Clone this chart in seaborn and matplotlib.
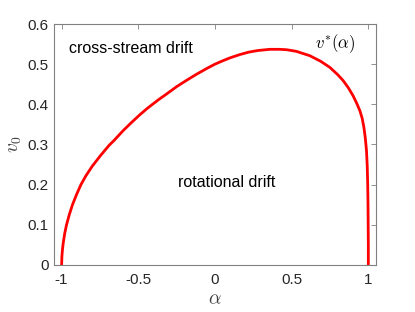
import numpy as np
import pandas as pd
import seaborn as sns
import matplotlib
matplotlib.use('Agg')
import matplotlib.pyplot as plt

# v*(alpha) boundary
alpha = [-1.0, -0.998, -0.994, -0.989, -0.980, -0.968, -0.950, -0.929, -0.903,
         -0.874, -0.840, -0.800, -0.745, -0.690, -0.658, -0.600, -0.549,
         -0.490, -0.441, -0.370, -0.311, -0.250, -0.180, -0.120, -0.050,
         0.0, 0.048, 0.100, 0.163, 0.220, 0.280, 0.358, 0.420, 0.467, 0.530,
         0.619, 0.690, 0.749, 0.800, 0.836, 0.870, 0.901, 0.925, 0.945,
         0.960, 0.971, 0.980, 0.988, 0.993, 0.996, 0.998, 0.999, 1.0, 1.0]
v_star = [0.0, 0.022, 0.040, 0.056, 0.078, 0.100, 0.125, 0.150, 0.175,
          0.200, 0.223, 0.246, 0.273, 0.298, 0.310, 0.334, 0.353,
          0.374, 0.390, 0.411, 0.427, 0.444, 0.461, 0.475, 0.490,
          0.500, 0.508, 0.516, 0.524, 0.530, 0.534, 0.537, 0.537, 0.536, 0.532,
          0.521, 0.507, 0.492, 0.474, 0.459, 0.441, 0.421, 0.402, 0.384,
          0.365, 0.343, 0.317, 0.285, 0.245, 0.200, 0.150, 0.100, 0.050, 0.0]

xticks = [-1, -0.5, 0, 0.5, 1]
xticklabels = ['-1', '-0.5', '0', '0.5', '1']
yticks = [0, 0.1, 0.2, 0.3, 0.4, 0.5, 0.6]
yticklabels = ['0', '0.1', '0.2', '0.3', '0.4', '0.5', '0.6']

df = pd.DataFrame({'alpha': alpha, 'v': v_star})

sns.set_style('white')
plt.rcParams['mathtext.fontset'] = 'cm'
plt.rcParams['font.family'] = ['Liberation Sans', 'DejaVu Sans']

fig = plt.figure(figsize=(4.15, 3.12), dpi=100)
ax = fig.add_axes([0.130, 0.151, 0.776, 0.772])

sns.lineplot(data=df, x='alpha', y='v', sort=False, estimator=None,
             color='#ff0000', linewidth=2, ax=ax)

ax.set_xlim(-1.05, 1.05)
ax.set_ylim(0, 0.6)
ax.set_xticks(xticks)
ax.set_xticklabels(xticklabels)
ax.set_yticks(yticks)
ax.set_yticklabels(yticklabels)
ax.tick_params(direction='in', top=True, right=True, length=3.5, width=0.6,
               color='#808080', labelsize=11, labelcolor='#262626')
ax.tick_params(axis='x', pad=6)
ax.tick_params(axis='y', pad=4)
for s in ax.spines.values():
    s.set_color('#808080')
    s.set_linewidth(0.8)

ax.set_xlabel(r'$\alpha$', fontsize=14, color='#404040', labelpad=3)
ax.set_ylabel(r'$v_0$', fontsize=14, color='#404040', labelpad=2)

ax.text(-0.955, 0.538, 'cross-stream drift', fontsize=11.5, color='black',
        va='center', ha='left')
ax.text(0.078, 0.204, 'rotational drift', fontsize=11.5, color='black',
        va='center', ha='center')
ax.text(0.78, 0.551, r'$v^{*}(\alpha)$', fontsize=12, color='black',
        va='center', ha='center')

fig.savefig('out.png', dpi=100)
